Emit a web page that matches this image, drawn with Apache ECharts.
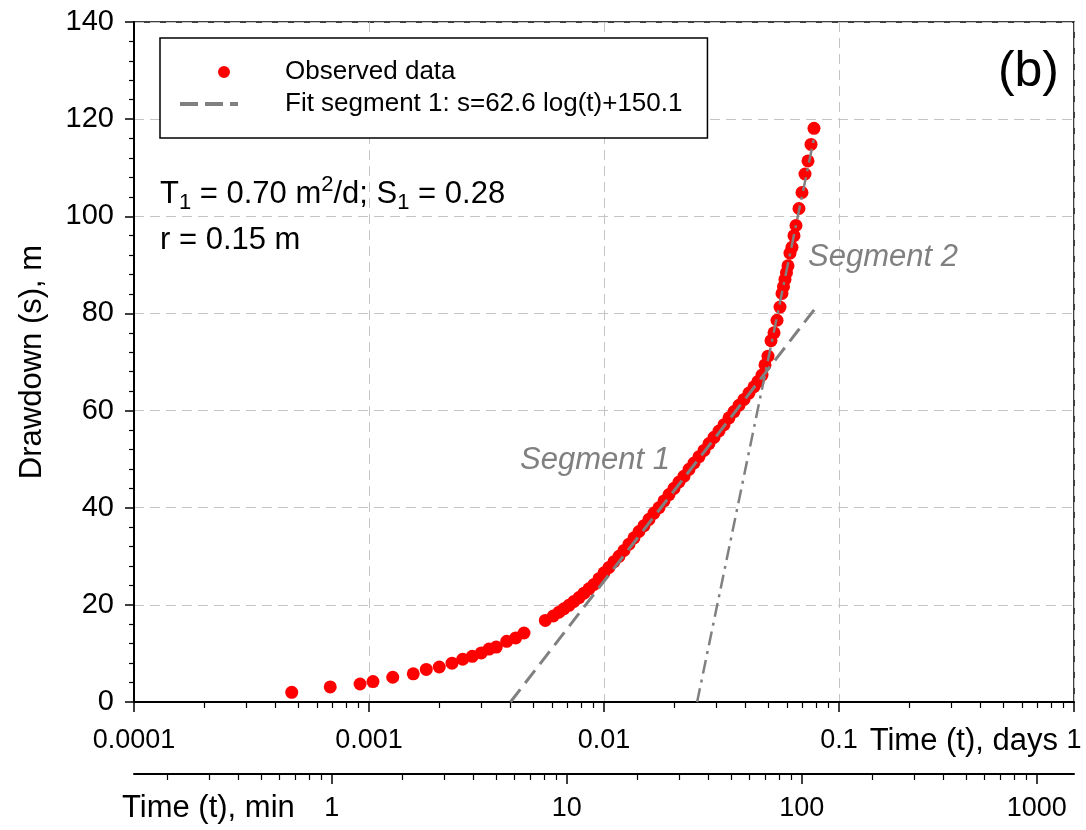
<!DOCTYPE html>
<html><head><meta charset="utf-8">
<script src="https://cdn.jsdelivr.net/npm/echarts@6/dist/echarts.min.js"></script>
<style>html,body{margin:0;padding:0;background:#fff}#c{width:1086px;height:830px}</style>
</head><body><div id="c"></div>
<script>
// ---- data (time in days, drawdown in m) ----
const obsTime = [
  0.000469, 0.000684, 0.000916, 0.00104, 0.001262, 0.001543, 0.001753, 0.001991, 0.002256, 0.002504,
  0.002751, 0.003005, 0.003241, 0.00348, 0.003855, 0.00421, 0.004566, 0.005627, 0.006087,
  0.006434, 0.006757, 0.007096, 0.007453, 0.007827, 0.00822, 0.008633, 0.009067, 0.009522, 0.01,
  0.010502, 0.01103, 0.011584, 0.012165, 0.012776, 0.013418, 0.014092, 0.014799, 0.015543, 0.016323,
  0.017143, 0.018004, 0.018908, 0.019857, 0.020854, 0.021902, 0.023001, 0.024156, 0.025369, 0.026643,
  0.027981, 0.029386, 0.030862, 0.032412, 0.034039, 0.035749, 0.037544, 0.039429, 0.041409, 0.043488,
  0.045228, 0.047037, 0.048431, 0.049876, 0.051364, 0.052896, 0.054474, 0.056099, 0.057204, 0.058045,
  0.058905, 0.059778, 0.060663, 0.061864, 0.063088, 0.064337, 0.065611, 0.067568, 0.069584, 0.071659,
  0.073797, 0.075999, 0.078266
];
const obsDrawdown = [
  2.0, 3.1, 3.7, 4.2, 5.1, 5.8, 6.7, 7.2, 8.0, 8.8,
  9.4, 10.1, 10.9, 11.3, 12.5, 13.2, 14.2, 16.8, 17.7,
  18.5, 19.2, 19.9, 20.7, 21.5, 22.4, 23.3, 24.2, 25.4, 26.6,
  27.7, 28.9, 30.0, 31.2, 32.5, 33.8, 35.1, 36.3, 37.6, 38.9,
  40.0, 41.4, 42.7, 44.0, 45.3, 46.5, 47.9, 49.2, 50.5, 51.8,
  53.2, 54.5, 55.8, 57.1, 58.5, 59.8, 61.1, 62.3, 63.6, 64.9,
  66.0, 67.3, 69.4, 71.2, 74.4, 76.0, 78.6, 81.3, 84.1, 85.5,
  87.0, 88.4, 89.8, 92.4, 93.6, 96.0, 98.1, 101.6, 104.9, 108.7,
  111.4, 114.8, 118.1
];
const fit1Time = [0.0040, 0.0791];
const fit1Drawdown = [0, 81];
const seg2Time = [0.0249, 0.0790];
const seg2Drawdown = [0, 117];

const dayMajorTicks = [0.0001, 0.001, 0.01, 0.1, 1];
const dayMinorTicks = [0.0002,0.0003,0.0004,0.0005,0.0006,0.0007,0.0008,0.0009,
  0.002,0.003,0.004,0.005,0.006,0.007,0.008,0.009,
  0.02,0.03,0.04,0.05,0.06,0.07,0.08,0.09,
  0.2,0.3,0.4,0.5,0.6,0.7,0.8,0.9];
const minMajorTicks = [1, 10, 100, 1000];
const minMinorTicks = [0.2,0.3,0.4,0.5,0.6,0.7,0.8,0.9,
  2,3,4,5,6,7,8,9, 20,30,40,50,60,70,80,90, 200,300,400,500,600,700,800,900];
const yTicks = [0, 20, 40, 60, 80, 100, 120, 140];

const legendNames = ['Observed data', 'Fit segment 1: s=62.6 log(t)+150.1'];

// ---- build ----
const MIN_PER_DAY = 1440;
const F = "'Liberation Sans', Arial, sans-serif";
const zip = (a, b) => a.map((v, i) => [v, b[i]]);
const gridLine = { show: true, lineStyle: { color: '#c4c4c4', width: 1, type: [10, 6] } };

const chart = echarts.init(document.getElementById('c'), null, { renderer: 'canvas' });
const baseX = { type: 'log', logBase: 10, min: dayMajorTicks[0], max: dayMajorTicks[dayMajorTicks.length - 1], gridIndex: 0, position: 'bottom' };
chart.setOption({
  animation: false,
  backgroundColor: '#fff',
  grid: { left: 134, right: 12, top: 22, bottom: 128, show: true, borderColor: '#000', borderWidth: 1.5, containLabel: false },
  legend: {
    orient: 'vertical', left: 160, top: 38, selectedMode: false,
    padding: [21, 25, 21, 18], itemGap: 6, itemWidth: 58, itemHeight: 12,
    borderColor: '#000', borderWidth: 1.5, backgroundColor: '#fff',
    textStyle: { fontFamily: F, fontSize: 26, color: '#000', padding: [0, 0, 0, 42] },
    data: [
      { name: legendNames[0], icon: 'path://M0 0L58 0L58 0.01L0 0.01Z M38 6A6 6 0 1 0 50 6A6 6 0 1 0 38 6Z',
        itemStyle: { color: '#ff0000', opacity: 1 } },
      { name: legendNames[1], itemStyle: { opacity: 0 }, lineStyle: { color: '#808080', width: 4, type: [18, 7], opacity: 1 } }
    ]
  },
  xAxis: [
    Object.assign({}, baseX, {
      axisLine: { show: true, onZero: false, lineStyle: { color: '#000', width: 2 } },
      axisTick: { show: true, length: 10, customValues: dayMajorTicks, lineStyle: { color: '#000', width: 1.5 } },
      axisLabel: { fontFamily: F, fontSize: 27, color: '#000', margin: 25, customValues: dayMajorTicks,
        formatter: v => String(v) },
      splitLine: gridLine, minorTick: { show: false }
    }),
    Object.assign({}, baseX, {
      axisLine: { show: false }, axisLabel: { show: false }, splitLine: { show: false },
      axisTick: { show: true, length: 6, customValues: dayMinorTicks, lineStyle: { color: '#000', width: 1.2 } }
    }),
    Object.assign({}, baseX, {
      offset: 72,
      axisLine: { show: true, onZero: false, lineStyle: { color: '#000', width: 2 } },
      axisTick: { show: true, length: 10, customValues: minMajorTicks.map(m => m / MIN_PER_DAY), lineStyle: { color: '#000', width: 1.5 } },
      axisLabel: { show: true, customValues: minMajorTicks.map(m => m / MIN_PER_DAY), fontFamily: F, fontSize: 27, color: '#000', margin: 21,
        formatter: v => String(Math.round(v * MIN_PER_DAY)) },
      splitLine: { show: false }
    }),
    Object.assign({}, baseX, {
      offset: 72,
      axisLine: { show: false }, axisLabel: { show: false }, splitLine: { show: false },
      axisTick: { show: true, length: 6, customValues: minMinorTicks.map(m => m / MIN_PER_DAY), lineStyle: { color: '#000', width: 1.2 } }
    })
  ],
  yAxis: {
    type: 'value', min: yTicks[0], max: yTicks[yTicks.length - 1], interval: 20,
    name: 'Drawdown (s), m', nameLocation: 'middle', nameGap: 86,
    nameTextStyle: { fontFamily: F, fontSize: 31, color: '#000' },
    axisLine: { show: true, onZero: false, lineStyle: { color: '#000', width: 2 } },
    axisTick: { show: true, inside: false, length: 9, lineStyle: { color: '#000', width: 1.5 } },
    minorTick: { show: true, splitNumber: 5, length: 5, lineStyle: { color: '#000', width: 1.2 } },
    axisLabel: { fontFamily: F, fontSize: 29, color: '#000', margin: 20 },
    splitLine: gridLine
  },
  series: [
    { name: legendNames[0], type: 'scatter', xAxisIndex: 0, data: zip(obsTime, obsDrawdown),
      symbol: 'circle', symbolSize: 13, itemStyle: { color: '#ff0000', opacity: 1 }, z: 3 },
    { name: legendNames[1], type: 'line', xAxisIndex: 0, data: zip(fit1Time, fit1Drawdown),
      symbol: 'none', showSymbol: false, itemStyle: { color: '#808080' },
      lineStyle: { color: '#808080', width: 3, type: [16, 8] }, z: 4 },
    { name: 'Fit segment 2', type: 'line', xAxisIndex: 0, data: zip(seg2Time, seg2Drawdown),
      symbol: 'none', showSymbol: false, itemStyle: { color: '#808080' },
      lineStyle: { color: '#808080', width: 2.5, type: [14, 6, 3, 6] }, z: 4 }
  ],
  graphic: [
    { type: 'text', x: 1058, y: 741, z: 10, style: { text: 'Time (t), days', font: '31px ' + F, fill: '#000', textAlign: 'right', textVerticalAlign: 'middle', align: 'right', verticalAlign: 'middle' } },
    { type: 'text', x: 122, y: 808, z: 10, style: { text: 'Time (t), min', font: '31px ' + F, fill: '#000', textAlign: 'left', textVerticalAlign: 'middle', align: 'left', verticalAlign: 'middle' } },
    { type: 'text', x: 1059, y: 72, z: 10, style: { text: '(b)', font: '50px ' + F, fill: '#000', textAlign: 'right', textVerticalAlign: 'middle', align: 'right', verticalAlign: 'middle' } },
    { type: 'text', x: 520, y: 460, z: 10, style: { text: 'Segment 1', font: 'italic 31px ' + F, fill: '#808080', textAlign: 'left', textVerticalAlign: 'middle', align: 'left', verticalAlign: 'middle' } },
    { type: 'text', x: 808, y: 257, z: 10, style: { text: 'Segment 2', font: 'italic 31px ' + F, fill: '#808080', textAlign: 'left', textVerticalAlign: 'middle', align: 'left', verticalAlign: 'middle' } },
    { type: 'text', x: 160, y: 194, z: 10, style: {
        text: '{a|T}{s|1}{a| = 0.70 m}{p|2}{a|/d; S}{s|1}{a| = 0.28}',
        textAlign: 'left', textVerticalAlign: 'middle', align: 'left', verticalAlign: 'middle',
        rich: {
          a: { fontFamily: F, fontSize: 31, lineHeight: 40, color: '#000' },
          s: { fontFamily: F, fontSize: 22, lineHeight: 20, verticalAlign: 'bottom', color: '#000' },
          p: { fontFamily: F, fontSize: 22, lineHeight: 18, verticalAlign: 'top', color: '#000' }
        } } },
    { type: 'text', x: 160, y: 240, z: 10, style: { text: 'r = 0.15 m', font: '31px ' + F, fill: '#000', textAlign: 'left', textVerticalAlign: 'middle', align: 'left', verticalAlign: 'middle' } }
  ]
});
</script></body></html>
